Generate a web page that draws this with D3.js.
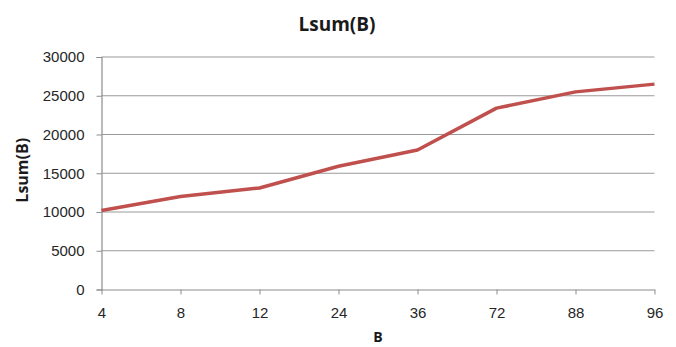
<!DOCTYPE html>
<html>
<head>
<meta charset="utf-8">
<script src="https://cdn.jsdelivr.net/npm/d3@7"></script>
<style>
  body { margin: 0; background: #fff; }
  svg { display: block; font-family: "Open Sans", "Liberation Sans", sans-serif; }
</style>
</head>
<body>
<svg id="chart" width="676" height="347"></svg>
<script>
// categories along B, and Lsum values
const categories = ['4', '8', '12', '24', '36', '72', '88', '96'];
const lsumValues = [10200, 12000, 13100, 15900, 18000, 23400, 25500, 26500];
const yTicks = [0, 5000, 10000, 15000, 20000, 25000, 30000];

const width = 676, height = 347;
const margin = { top: 57, right: 21.5, bottom: 57.5, left: 101.5 };

const svg = d3.select('#chart');

const x = d3.scalePoint(categories, [margin.left, width - margin.right]);
const y = d3.scaleLinear([0, 30000], [height - margin.bottom, margin.top]);

// horizontal gridlines
svg.append('g')
  .selectAll('line')
  .data(yTicks.slice(1))
  .join('line')
    .attr('x1', margin.left)
    .attr('x2', width - margin.right)
    .attr('y1', d => y(d))
    .attr('y2', d => y(d))
    .attr('stroke', '#9a9a9a')
    .attr('stroke-width', 1.2);

// y axis
svg.append('g')
  .attr('transform', `translate(${margin.left},0)`)
  .call(d3.axisLeft(y).tickValues(yTicks).tickSize(5).tickPadding(12).tickFormat(d3.format('d')))
  .call(g => g.select('.domain').attr('stroke', '#8c8c8c').attr('stroke-width', 1.2))
  .call(g => g.selectAll('.tick line').attr('stroke', '#8c8c8c'))
  .call(g => g.selectAll('.tick text')
    .attr('font-size', 15)
    .attr('fill', '#262626'));

// x axis
svg.append('g')
  .attr('transform', `translate(0,${height - margin.bottom})`)
  .call(d3.axisBottom(x).tickSizeInner(5).tickSizeOuter(0).tickPadding(13))
  .call(g => g.select('.domain').attr('stroke', '#8c8c8c').attr('stroke-width', 1.2))
  .call(g => g.selectAll('.tick line').attr('stroke', '#8c8c8c'))
  .call(g => g.selectAll('.tick text')
    .attr('font-size', 15)
    .attr('fill', '#262626'));

// the line
const line = d3.line()
  .x((d, i) => x(categories[i]))
  .y(d => y(d));

svg.append('path')
  .datum(lsumValues)
  .attr('fill', 'none')
  .attr('stroke', '#c0504d')
  .attr('stroke-width', 3.5)
  .attr('stroke-linejoin', 'round')
  .attr('d', line);

// title and axis labels
svg.append('text')
  .attr('x', 337)
  .attr('y', 31)
  .attr('text-anchor', 'middle')
  .attr('font-size', 19)
  .attr('font-weight', 'bold')
  .attr('fill', '#1a1a1a')
  .text('Lsum(B)');

svg.append('text')
  .attr('transform', `translate(28,${y(15000) - 3}) rotate(-90)`)
  .attr('text-anchor', 'middle')
  .attr('font-size', 16)
  .attr('font-weight', 'bold')
  .attr('fill', '#1a1a1a')
  .text('Lsum(B)');

svg.append('text')
  .attr('x', 378)
  .attr('y', 342)
  .attr('text-anchor', 'middle')
  .attr('font-size', 14)
  .attr('font-weight', 'bold')
  .attr('fill', '#1a1a1a')
  .text('B');
</script>
</body>
</html>
